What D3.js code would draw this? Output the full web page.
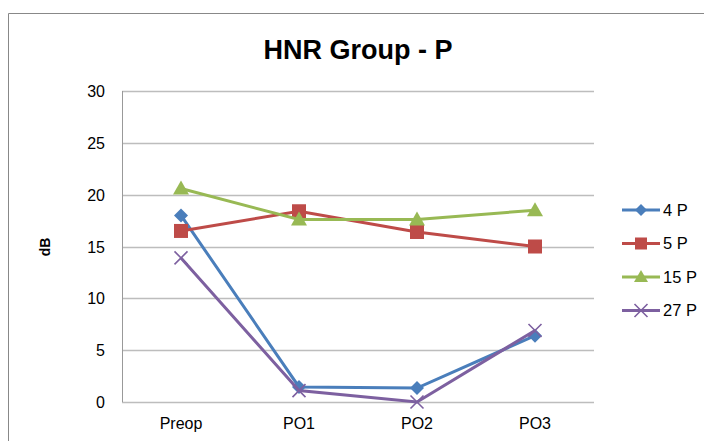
<!DOCTYPE html>
<html><head><meta charset="utf-8">
<script src="https://cdn.jsdelivr.net/npm/d3@7"></script>
<style>body{margin:0;background:#fff}svg{display:block;font-family:"Liberation Sans",Arial,sans-serif}</style>
</head><body><svg width="704" height="441"></svg>
<script>
const categories = ["Preop","PO1","PO2","PO3"];
const seriesNames = ["4 P","5 P","15 P","27 P"];
const s4P = [18.0, 1.45, 1.35, 6.4];
const s5P = [16.5, 18.4, 16.4, 15.0];
const s15P = [20.6, 17.6, 17.6, 18.5];
const s27P = [13.9, 1.1, 0.0, 6.9];
const yTicks = [0,5,10,15,20,25,30];
const colors = ["#4A7EBB","#BE4B48","#98B954","#7D60A0"];
const markers = ["diamond","square","triangle","x"];
const allSeries = [s4P,s5P,s15P,s27P];

const svg = d3.select("svg");
// chart frame
svg.append("path").attr("d","M8.5,441 V13.5 H704").attr("fill","none").attr("stroke","#888").attr("stroke-width",1);

const x = d3.scaleBand().domain(categories).range([122,594]);
const y = d3.scaleLinear().domain([0,30]).range([402,91]);

// gridlines
svg.append("g").selectAll("line").data(yTicks).join("line")
  .attr("x1",122).attr("x2",594).attr("y1",d=>Math.round(y(d))+0.5).attr("y2",d=>Math.round(y(d))+0.5)
  .attr("stroke","#bdbdbd").attr("stroke-width",1.3);
// left axis line
svg.append("line").attr("x1",122.5).attr("x2",122.5).attr("y1",91).attr("y2",402).attr("stroke","#999");

const yAxis = svg.append("g").attr("transform","translate(122,0)")
  .call(d3.axisLeft(y).tickValues(yTicks).tickSize(0).tickPadding(17));
yAxis.select(".domain").remove();
yAxis.selectAll("text").attr("font-size",16).attr("fill","#000").attr("dy","0.35em");

const xAxis = svg.append("g").attr("transform","translate(0,402)")
  .call(d3.axisBottom(x).tickSize(0).tickPadding(16));
xAxis.select(".domain").remove();
xAxis.selectAll("text").attr("font-size",16).attr("fill","#000");

svg.append("text").attr("x",358).attr("y",59).attr("text-anchor","middle")
  .attr("font-size",27).attr("font-weight","bold").text("HNR Group - P");
svg.append("text").attr("transform","translate(50,247) rotate(-90)").attr("text-anchor","middle")
  .attr("font-size",14).attr("font-weight","bold").text("dB");

const line = d3.line().x((d,i)=>x(categories[i])+x.bandwidth()/2).y(d=>y(d));

function marker(g, type, cx, cy, color, s){
  if(type==="diamond") g.append("path").attr("d",`M${cx},${cy-s} L${cx+s},${cy} L${cx},${cy+s} L${cx-s},${cy} Z`).attr("fill",color);
  else if(type==="square") g.append("rect").attr("x",cx-s).attr("y",cy-s).attr("width",2*s).attr("height",2*s).attr("fill",color);
  else if(type==="triangle") g.append("path").attr("d",`M${cx},${cy-s-1} L${cx+s+1},${cy+s-1} L${cx-s-1},${cy+s-1} Z`).attr("fill",color);
  else g.append("path").attr("d",`M${cx-s},${cy-s} L${cx+s},${cy+s} M${cx+s},${cy-s} L${cx-s},${cy+s}`).attr("stroke",color).attr("stroke-width",1.6);
}
const sizes = [7,7,7,6.5];
allSeries.forEach((vals,k)=>{
  const g = svg.append("g");
  g.append("path").attr("d",line(vals)).attr("fill","none").attr("stroke",colors[k]).attr("stroke-width",3);
  vals.forEach((v,i)=>marker(g, markers[k], x(categories[i])+x.bandwidth()/2, y(v), colors[k], sizes[k]));
});

// legend
const lg = svg.append("g");
seriesNames.forEach((n,k)=>{
  const ly = 210 + k*33.5;
  lg.append("line").attr("x1",622).attr("x2",660).attr("y1",ly).attr("y2",ly).attr("stroke",colors[k]).attr("stroke-width",3);
  marker(lg, markers[k], 641, ly, colors[k], k===3?6.5:6);
  lg.append("text").attr("x",663).attr("y",ly).attr("dy","0.35em").attr("font-size",16.5).text(n);
});
</script></body></html>
